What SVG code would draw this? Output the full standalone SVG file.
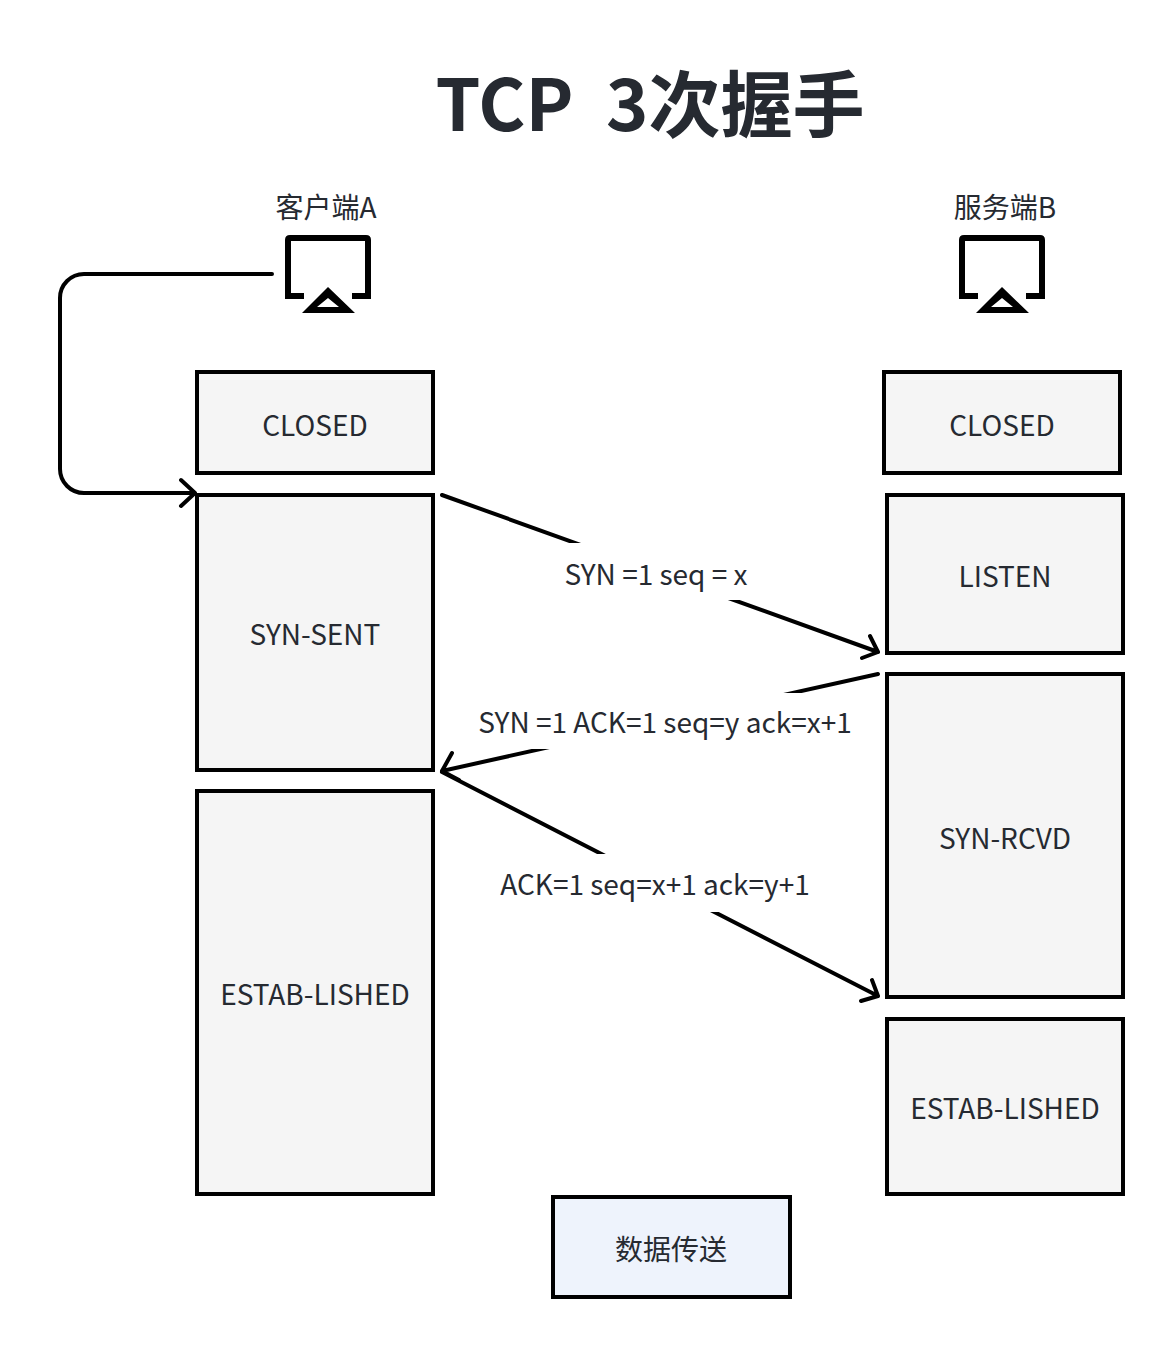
<svg xmlns="http://www.w3.org/2000/svg" width="1174" height="1348" viewBox="0 0 1174 1348">
<style>
text{font-family:"Noto Sans CJK SC","Noto Sans",sans-serif;fill:#262a31;text-anchor:middle;dominant-baseline:central;font-size:28px}
.box{stroke:#000;stroke-width:4;fill:#f5f5f5}
.blue{fill:#eef3fc}
.c{fill:none;stroke:#000;stroke-width:4;stroke-linecap:round;stroke-linejoin:round}
.icon{fill:none;stroke:#000;stroke-width:6}
.tri{fill:#000;fill-rule:evenodd}
.gap{fill:#fff;stroke:none}
</style>
<rect width="1174" height="1348" fill="#fff"/>
<g id="title"><text x="650" y="99" style="font-size:72px;font-weight:700;white-space:pre">TCP  3次握手</text></g>
<g id="connectors">
<path class="c" d="M272 274H84A24 24 0 0 0 60 298V469A24 24 0 0 0 84 493H195M181 480L195 493L181 506"/>
<path class="c" d="M442 495L878 652M870 636L878 652L862 658"/>
<path class="c" d="M878 674L442 771M452 753L442 771L459 780"/>
<path class="c" d="M442 772L878 996M872 980L878 996L861 1001"/>
</g>
<g id="label-1"><rect class="gap" x="545" y="543" width="220" height="57"/><text x="656" y="573">SYN =1 seq = x</text></g>
<g id="label-2"><rect class="gap" x="470" y="693" width="390" height="56"/><text x="665" y="721">SYN =1 ACK=1 seq=y ack=x+1</text></g>
<g id="label-3"><rect class="gap" x="490" y="854" width="330" height="58"/><text x="655" y="883">ACK=1 seq=x+1 ack=y+1</text></g>
<g id="client"><text x="326" y="206">客户端A</text>
<path class="icon" d="M304 296H288V240Q288 238 290 238H366Q368 238 368 240V296H352"/><path class="tri" d="M328 287L355 313H302ZM328 298L317 307H339Z"/></g>
<g id="server"><text x="1005" y="206">服务端B</text>
<path class="icon" d="M978 296H962V240Q962 238 964 238H1040Q1042 238 1042 240V296H1026"/><path class="tri" d="M1002 287L1029 313H976ZM1002 298L991 307H1013Z"/></g>
<g id="a-closed"><rect class="box" x="197" y="372" width="236" height="101"/><text x="315" y="424">CLOSED</text></g>
<g id="a-syn-sent"><rect class="box" x="197" y="495" width="236" height="275"/><text x="315" y="633">SYN-SENT</text></g>
<g id="a-established"><rect class="box" x="197" y="791" width="236" height="403"/><text x="315" y="993">ESTAB-LISHED</text></g>
<g id="b-closed"><rect class="box" x="884" y="372" width="236" height="101"/><text x="1002" y="424">CLOSED</text></g>
<g id="b-listen"><rect class="box" x="887" y="495" width="236" height="158"/><text x="1005" y="575">LISTEN</text></g>
<g id="b-syn-rcvd"><rect class="box" x="887" y="674" width="236" height="323"/><text x="1005" y="837">SYN-RCVD</text></g>
<g id="b-established"><rect class="box" x="887" y="1019" width="236" height="175"/><text x="1005" y="1107">ESTAB-LISHED</text></g>
<g id="data"><rect class="box blue" x="553" y="1197" width="237" height="100"/><text x="671" y="1248">数据传送</text></g>
</svg>
